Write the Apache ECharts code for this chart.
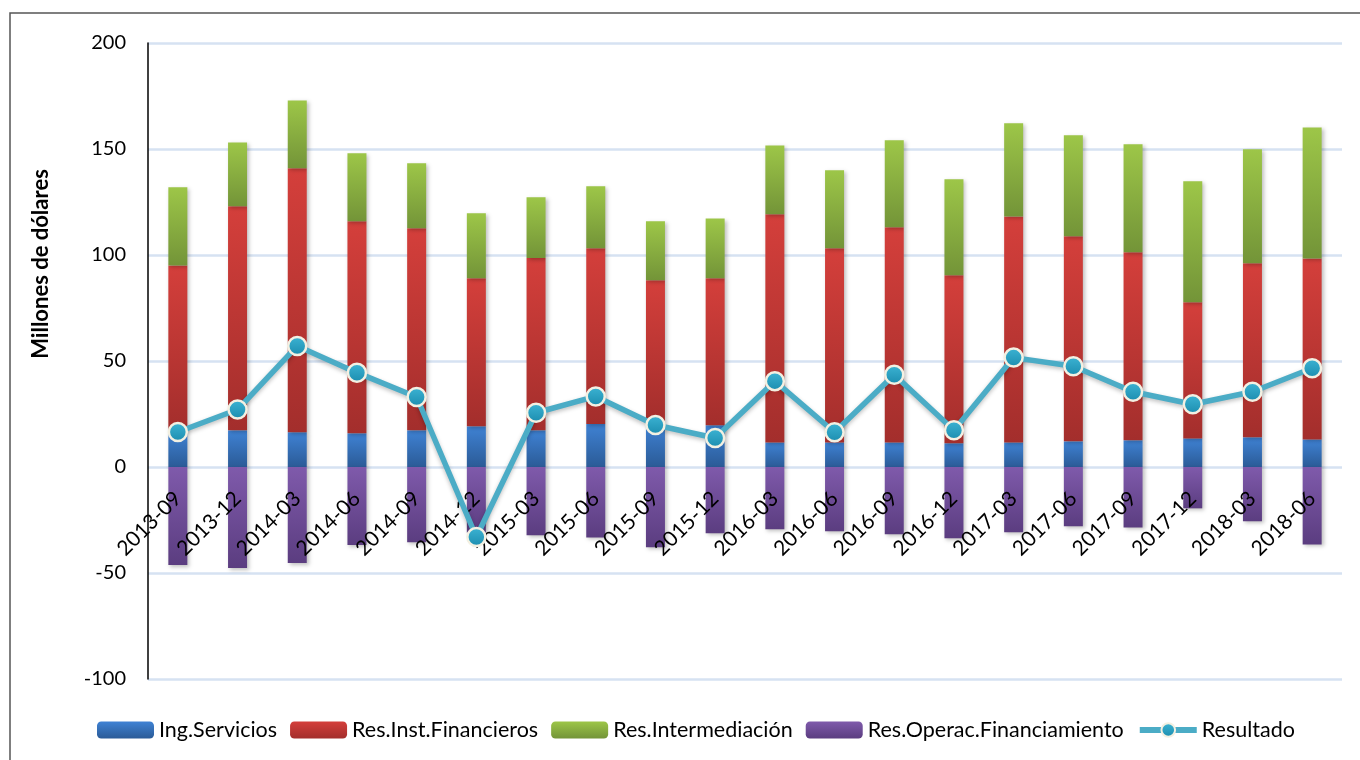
<!DOCTYPE html>
<html>
<head>
<meta charset="utf-8">
<script src="https://cdn.jsdelivr.net/npm/echarts@6/dist/echarts.min.js"></script>
<style>
  html, body { margin: 0; padding: 0; background: #fff; }
  #main { width: 1360px; height: 760px; }
</style>
</head>
<body>
<div id="main"></div>
<script>
// trimestres
var periodos = ['2013-09', '2013-12', '2014-03', '2014-06', '2014-09', '2014-12', '2015-03', '2015-06', '2015-09', '2015-12',
    '2016-03', '2016-06', '2016-09', '2016-12', '2017-03', '2017-06', '2017-09', '2017-12', '2018-03', '2018-06'];

var ingServicios = [17.0, 17.3, 16.4, 15.9, 17.3, 19.2, 17.3, 20.3, 20.4, 19.7, 11.6, 11.6, 11.6, 11.2, 11.6, 12.1, 12.6, 13.5, 14.0, 13.0];
var resInstFin = [78.1, 105.7, 124.5, 100.0, 95.3, 69.8, 81.3, 82.9, 67.7, 69.3, 107.6, 91.6, 101.5, 79.2, 106.6, 96.7, 88.7, 64.2, 82.1, 85.4];
var resInterm = [36.8, 30.1, 32.0, 32.1, 30.7, 30.7, 28.6, 29.2, 27.8, 28.2, 32.5, 36.8, 41.0, 45.3, 43.9, 47.7, 50.9, 57.1, 53.8, 61.8];
var resOperFin = [-46.2, -47.6, -45.3, -36.8, -35.5, -31.0, -32.2, -33.2, -37.9, -31.3, -29.4, -30.3, -31.7, -33.6, -30.8, -28.0, -28.5, -19.5, -25.6, -36.5];
var resultado = [16.5, 27.1, 57.1, 44.5, 33.0, -33.0, 25.6, 33.3, 19.8, 13.7, 40.5, 16.4, 43.5, 17.3, 51.6, 47.5, 35.5, 29.6, 35.5, 46.6];

var yTicks = { min: -100, max: 200, step: 50 };

var myChart = echarts.init(document.getElementById('main'));

// plot area, px
var plotTop = 43, plotBottom = 679;
// lift the category axis from the bottom of the grid up to the value 0
var zeroOffset = (plotBottom - plotTop) * (0 - yTicks.min) / (yTicks.max - yTicks.min);

function grad(top, bottom) {
    return new echarts.graphic.LinearGradient(0, 0, 0, 1, [
        { offset: 0, color: top },
        { offset: 1, color: bottom }
    ]);
}

function barSerie(name, data, top, bottom) {
    return {
        name: name,
        type: 'bar',
        stack: 'total',
        barWidth: 19,
        data: data,
        itemStyle: {
            color: grad(top, bottom),
            shadowBlur: 4,
            shadowColor: 'rgba(0,0,0,0.25)',
            shadowOffsetX: 2,
            shadowOffsetY: 2
        },
        emphasis: { disabled: true }
    };
}

var font = 'Lato';

option = {
    animation: false,
    graphic: [
        {
            type: 'rect',
            shape: { x: 10, y: 13, width: 1400, height: 800 },
            style: { fill: 'none', stroke: '#555', lineWidth: 1.5 },
            silent: true
        },
        {
            type: 'text',
            x: 41,
            y: 264,
            rotation: Math.PI / 2,
            style: {
                text: 'Millones de dólares',
                font: 'bold 22px Lato',
                fill: '#000',
                align: 'center',
                verticalAlign: 'middle'
            }
        }
    ],
    legend: {
        left: 92,
        top: 714,
        itemWidth: 57,
        itemHeight: 17,
        itemGap: 13,
        textStyle: { fontFamily: font, fontSize: 21.5, color: '#000' },
        data: ['Ing.Servicios', 'Res.Inst.Financieros', 'Res.Intermediación', 'Res.Operac.Financiamiento',
            { name: 'Resultado', lineStyle: { width: 6 } }]
    },
    grid: { left: 148, right: 18, top: plotTop, bottom: 760 - plotBottom },
    xAxis: {
        type: 'category',
        data: periodos,
        offset: -zeroOffset,
        z: 4,
        axisLine: { show: false, onZero: false },
        axisTick: { show: false },
        axisLabel: {
            rotate: 45,
            margin: 28,
            fontFamily: font,
            fontSize: 21,
            color: '#000'
        }
    },
    yAxis: {
        type: 'value',
        min: yTicks.min,
        max: yTicks.max,
        interval: yTicks.step,
        axisLine: { show: true, lineStyle: { color: '#000', width: 1.5 } },
        axisTick: { show: false },
        axisLabel: { margin: 22, fontFamily: font, fontSize: 20, color: '#000' },
        splitLine: { lineStyle: { color: '#d6e2f2', width: 2.5 } }
    },
    series: [
        barSerie('Ing.Servicios', ingServicios, '#3f82d4', '#2b5b97'),
        barSerie('Res.Inst.Financieros', resInstFin, '#d43f3b', '#a32e2c'),
        barSerie('Res.Intermediación', resInterm, '#9dc648', '#739438'),
        barSerie('Res.Operac.Financiamiento', resOperFin, '#7f5aab', '#5b3d80'),
        {
            name: 'Resultado',
            type: 'line',
            data: resultado,
            z: 5,
            symbol: 'circle',
            symbolSize: 18,
            lineStyle: {
                color: '#4bacc6',
                width: 5.5,
                shadowBlur: 4,
                shadowColor: 'rgba(0,0,0,0.25)',
                shadowOffsetY: 2
            },
            itemStyle: {
                color: grad('#3db4d4', '#1b8cae'),
                borderColor: '#f3f0e2',
                borderWidth: 2.5
            },
            emphasis: { disabled: true }
        }
    ]
};

myChart.setOption(option);
</script>
</body>
</html>
